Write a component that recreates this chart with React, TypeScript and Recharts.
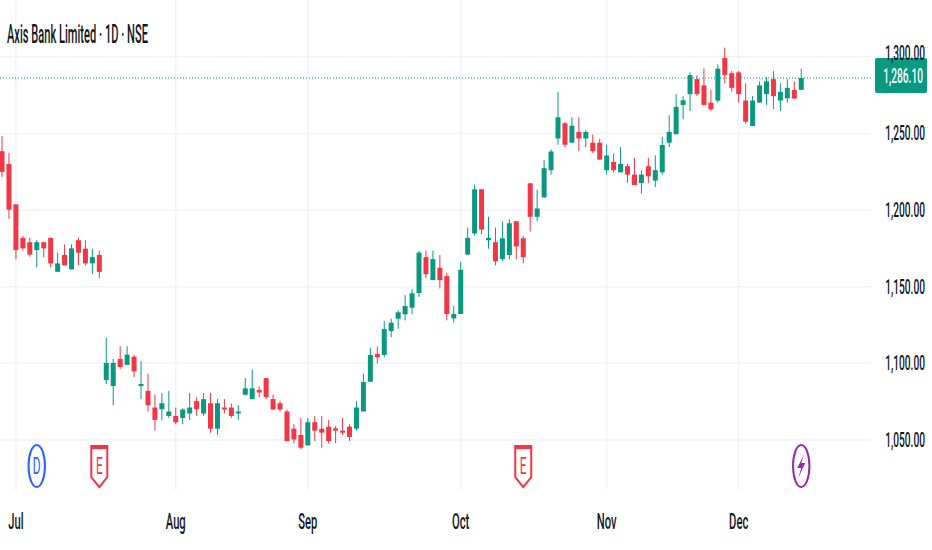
import { Bar, CartesianGrid, ComposedChart, ReferenceDot, ReferenceLine, XAxis, YAxis } from 'recharts';
import type { JSX } from 'react';

const UP = '#089981';
const DOWN = '#f23645';
const INK = '#131722';
const TEXT_FONT = 'Roboto, "Liberation Sans", sans-serif';
const SQUEEZE = 0.51;

const opens = [
  1238.4, 1230.1, 1203.7, 1181.8, 1179.0, 1173.9, 1179.0, 1181.8, 1159.7, 1170.7, 1161.3, 1180.3, 1174.8, 1165.2, 1170.7,
  1089.1, 1085.2, 1102.9, 1099.0, 1104.4, 1085.2, 1082.1, 1071.2, 1070.1, 1065.7, 1065.7, 1064.4, 1067.3, 1075.4, 1067.3,
  1074.0, 1057.4, 1071.2, 1071.2, 1067.3, 1079.5, 1076.7, 1082.6, 1090.4, 1076.7, 1074.0, 1068.6, 1057.4, 1053.3, 1046.5,
  1061.6, 1057.4, 1058.7, 1057.6, 1056.1, 1058.7, 1057.4, 1068.6, 1088.0, 1106.2, 1105.5, 1121.0, 1129.1, 1132.0, 1136.3,
  1145.9, 1169.3, 1154.3, 1162.4, 1156.9, 1129.3, 1132.2, 1170.9, 1184.7, 1213.5, 1180.3, 1179.0, 1168.0, 1170.7, 1192.7,
  1181.6, 1217.4, 1195.6, 1208.3, 1226.0, 1246.7, 1256.6, 1243.9, 1250.9, 1246.7, 1243.9, 1243.9, 1226.0, 1231.4, 1224.6,
  1228.6, 1223.1, 1217.6, 1228.6, 1219.2, 1224.6, 1243.9, 1249.5, 1268.6, 1275.6, 1285.4, 1281.3, 1270.1, 1271.4, 1299.2,
  1289.3, 1289.8, 1271.4, 1254.8, 1270.1, 1275.6, 1285.4, 1271.4, 1272.9, 1278.4, 1278.4,
];
const closes = [
  1224.9, 1200.2, 1173.9, 1175.0, 1170.9, 1179.0, 1175.0, 1165.2, 1165.2, 1163.9, 1175.0, 1172.2, 1165.2, 1169.3, 1159.7,
  1100.3, 1100.3, 1097.6, 1105.7, 1094.8, 1086.5, 1072.7, 1063.1, 1074.0, 1068.6, 1061.6, 1069.9, 1071.2, 1070.1, 1076.7,
  1057.4, 1074.0, 1069.9, 1065.7, 1068.6, 1083.7, 1083.7, 1081.0, 1078.0, 1069.9, 1069.9, 1049.3, 1050.4, 1045.0, 1061.6,
  1056.1, 1054.8, 1049.3, 1056.1, 1054.8, 1052.0, 1071.2, 1087.8, 1105.5, 1104.0, 1122.4, 1126.5, 1133.3, 1137.4, 1145.7,
  1172.2, 1158.2, 1168.0, 1154.3, 1132.2, 1132.2, 1161.0, 1181.8, 1213.5, 1187.3, 1181.8, 1166.5, 1181.6, 1191.4, 1176.3,
  1169.3, 1195.6, 1201.0, 1227.3, 1238.2, 1260.5, 1242.6, 1255.0, 1246.7, 1250.9, 1238.4, 1232.9, 1235.6, 1226.0, 1230.1,
  1223.1, 1216.3, 1223.1, 1222.0, 1226.0, 1242.4, 1250.9, 1267.3, 1271.6, 1288.0, 1275.6, 1268.6, 1265.7, 1292.2, 1288.0,
  1279.7, 1275.6, 1257.6, 1271.4, 1281.3, 1283.9, 1274.3, 1277.1, 1279.7, 1272.7, 1286.1,
];
const highs = [
  1248.3, 1237.3, 1203.7, 1183.1, 1182.0, 1180.5, 1179.4, 1182.2, 1172.2, 1177.6, 1177.6, 1182.0, 1180.3, 1174.8, 1173.5,
  1116.7, 1102.9, 1111.2, 1111.2, 1105.7, 1101.6, 1093.3, 1079.5, 1080.6, 1082.1, 1071.2, 1070.8, 1080.6, 1078.0, 1080.6,
  1080.6, 1076.7, 1076.7, 1073.8, 1072.7, 1090.4, 1095.9, 1085.0, 1090.4, 1079.5, 1075.4, 1069.9, 1060.3, 1064.4, 1064.4,
  1065.7, 1065.7, 1063.1, 1059.0, 1064.4, 1060.3, 1075.4, 1093.3, 1109.9, 1111.0, 1127.6, 1129.1, 1134.6, 1144.4, 1148.4,
  1173.5, 1173.5, 1173.5, 1170.7, 1159.1, 1137.4, 1166.3, 1188.6, 1216.6, 1213.7, 1195.6, 1188.6, 1192.7, 1194.0, 1192.9,
  1183.1, 1217.7, 1213.3, 1232.7, 1239.5, 1277.1, 1257.4, 1260.5, 1260.5, 1252.0, 1249.3, 1246.5, 1242.6, 1236.9, 1241.0,
  1230.1, 1234.0, 1226.0, 1234.0, 1235.6, 1247.8, 1261.8, 1275.6, 1274.3, 1289.8, 1288.0, 1292.4, 1278.4, 1295.0, 1306.0,
  1290.7, 1290.7, 1282.6, 1274.3, 1283.9, 1286.7, 1290.7, 1282.6, 1285.4, 1283.9, 1292.2,
];
const lows = [
  1221.6, 1194.3, 1167.8, 1173.5, 1169.6, 1162.6, 1169.1, 1162.6, 1159.7, 1163.9, 1161.3, 1163.9, 1163.9, 1158.2, 1155.6,
  1086.5, 1072.7, 1096.3, 1099.0, 1090.9, 1076.7, 1068.6, 1056.1, 1063.1, 1064.4, 1060.3, 1060.3, 1063.1, 1065.7, 1065.7,
  1054.8, 1053.3, 1067.3, 1064.4, 1063.1, 1079.5, 1076.7, 1078.0, 1076.7, 1069.9, 1068.6, 1049.3, 1047.8, 1043.9, 1046.5,
  1049.3, 1045.0, 1047.8, 1047.8, 1053.3, 1049.3, 1056.1, 1068.6, 1088.0, 1100.0, 1104.0, 1117.1, 1122.6, 1128.0, 1132.0,
  1143.3, 1155.4, 1154.3, 1148.8, 1128.0, 1126.5, 1132.2, 1170.7, 1183.3, 1184.4, 1174.8, 1163.9, 1166.7, 1167.8, 1167.8,
  1165.2, 1186.0, 1192.7, 1207.8, 1223.1, 1242.6, 1241.0, 1243.9, 1238.4, 1241.0, 1237.3, 1232.7, 1223.1, 1224.6, 1224.6,
  1217.6, 1216.3, 1210.6, 1217.6, 1215.0, 1223.1, 1241.0, 1249.3, 1259.2, 1264.6, 1274.3, 1267.9, 1264.6, 1270.1, 1282.6,
  1277.1, 1270.1, 1256.3, 1254.8, 1270.1, 1268.6, 1265.9, 1264.6, 1270.1, 1272.7, 1278.4,
];

const monthTicks = [2, 25, 44, 66, 87, 106];
const monthLabels = ['Jul', 'Aug', 'Sep', 'Oct', 'Nov', 'Dec'];
const priceTicks = [1050, 1100, 1150, 1200, 1250, 1300];
const lastPrice = 1286.1;
const title = 'Axis Bank Limited · 1D · NSE';

const eventBars = [5, 14, 75, 115];
const eventKinds = ['dividend', 'earnings', 'earnings', 'flash'];
const eventLevel = 1033;

const rows = opens.map((open, i) => ({
  idx: i,
  open,
  close: closes[i],
  high: highs[i],
  low: lows[i],
  range: [lows[i], highs[i]],
}));

const formatPrice = (value: number) =>
  value.toLocaleString('en-US', { minimumFractionDigits: 2, maximumFractionDigits: 2 });

function Candle({ x = 0, y = 0, width = 0, height = 0, payload }: any): JSX.Element {
  const unit = height / (payload.high - payload.low);
  const up = payload.close >= payload.open;
  const color = up ? UP : DOWN;
  const bodyTop = y + (payload.high - Math.max(payload.open, payload.close)) * unit;
  const bodyHeight = Math.max(Math.abs(payload.close - payload.open) * unit, 1);
  const mid = x + width / 2;
  return (
    <g>
      <line x1={mid} x2={mid} y1={y} y2={y + height} stroke={color} strokeWidth={1} />
      <rect x={x} y={bodyTop} width={width} height={bodyHeight} fill={color} />
    </g>
  );
}

function PriceTick({ x = 0, y = 0, payload }: any): JSX.Element {
  // the top label sits higher than the grid spacing, half under the price badge
  const lift = payload.value === 1300 ? -4 : 0;
  return (
    <text
      transform={`translate(${x + 52},${y + 7 + lift}) scale(${SQUEEZE},1)`}
      textAnchor="end"
      fontSize={20}
      fontWeight={500}
      fontFamily={TEXT_FONT}
      fill={INK}
    >
      {formatPrice(payload.value)}
    </text>
  );
}

function MonthTick({ x = 0, y = 0, payload }: any): JSX.Element {
  return (
    <text
      transform={`translate(${x},${y + 37}) scale(${SQUEEZE},1)`}
      textAnchor="middle"
      fontSize={22}
      fontWeight={500}
      fontFamily={TEXT_FONT}
      fill={INK}
    >
      {monthLabels[monthTicks.indexOf(payload.value)]}
    </text>
  );
}

function PriceBadge({ viewBox }: any): JSX.Element {
  const { x, y, width } = viewBox;
  const left = x + width + 4;
  return (
    <g>
      <rect x={left} y={y - 20} width={52} height={35} rx={2} fill={UP} />
      <text
        transform={`translate(${left + 48},${y + 5}) scale(${SQUEEZE},1)`}
        textAnchor="end"
        fontSize={20}
        fontWeight={500}
        fontFamily={TEXT_FONT}
        fill="#ffffff"
      >
        {formatPrice(lastPrice)}
      </text>
    </g>
  );
}

function EventMark({ cx = 0, cy = 0, kind }: any): JSX.Element {
  if (kind === 'earnings') {
    return (
      <g>
        <path
          d={`M${cx - 8} ${cy - 20} H${cx + 8} V${cy + 11} L${cx} ${cy + 21} L${cx - 8} ${cy + 11} Z`}
          fill="#ffffff"
          stroke={DOWN}
          strokeWidth={2}
        />
        <rect x={cx - 8} y={cy - 21} width={16} height={4} fill={DOWN} />
        <text
          transform={`translate(${cx},${cy + 8}) scale(0.5,1)`}
          textAnchor="middle"
          fontSize={24}
          fontFamily={TEXT_FONT}
          fill={DOWN}
        >
          E
        </text>
      </g>
    );
  }
  const color = kind === 'flash' ? '#9c27b0' : '#2962ff';
  return (
    <g>
      <ellipse cx={cx} cy={cy} rx={8.2} ry={21} fill="#ffffff" stroke={color} strokeWidth={2} />
      {kind === 'flash' ? (
        <path
          d={`M${cx + 3} ${cy - 12} L${cx - 4} ${cy + 2} H${cx} L${cx - 3} ${cy + 12} L${cx + 4} ${cy - 3} H${cx} Z`}
          fill={color}
        />
      ) : (
        <text
          transform={`translate(${cx},${cy + 8}) scale(0.5,1)`}
          textAnchor="middle"
          fontSize={24}
          fontFamily={TEXT_FONT}
          fill={color}
        >
          D
        </text>
      )}
    </g>
  );
}

export default function App(): JSX.Element {
  return (
    <div style={{ position: 'absolute', left: 0, top: 0, width: 932, height: 550, background: '#ffffff' }}>
      <ComposedChart width={932} height={550} data={rows} margin={{ top: 0, right: 0, bottom: 0, left: 0 }}>
        <CartesianGrid stroke="#f2f3f5" strokeWidth={1.5} syncWithTicks />
        <XAxis
          type="number"
          dataKey="idx"
          domain={[-0.288, 125.04]}
          allowDataOverflow
          ticks={monthTicks}
          interval={0}
          height={60}
          axisLine={false}
          tickLine={false}
          tickSize={0}
          tick={<MonthTick />}
        />
        <YAxis
          orientation="right"
          domain={[1017.4, 1337]}
          allowDataOverflow
          ticks={priceTicks}
          interval={0}
          width={61}
          axisLine={false}
          tickLine={false}
          tickSize={0}
          tick={<PriceTick />}
        />
        <Bar dataKey="range" barSize={5} isAnimationActive={false} shape={<Candle />} />
        {eventBars.map((bar, i) => (
          <ReferenceDot
            key={bar}
            x={bar}
            y={eventLevel}
            shape={(props: any) => <EventMark {...props} kind={eventKinds[i]} />}
          />
        ))}
        <ReferenceLine
          y={lastPrice}
          stroke={UP}
          strokeWidth={1}
          strokeDasharray="1 2"
          label={<PriceBadge />}
        />
      </ComposedChart>
      <svg width={932} height={60} style={{ position: 'absolute', left: 0, top: 0, pointerEvents: 'none' }}>
        <text
          x={7}
          y={43}
          fontSize={26}
          fontWeight={500}
          fontFamily={TEXT_FONT}
          fill={INK}
          textLength={141}
          lengthAdjust="spacingAndGlyphs"
        >
          {title}
        </text>
      </svg>
    </div>
  );
}
